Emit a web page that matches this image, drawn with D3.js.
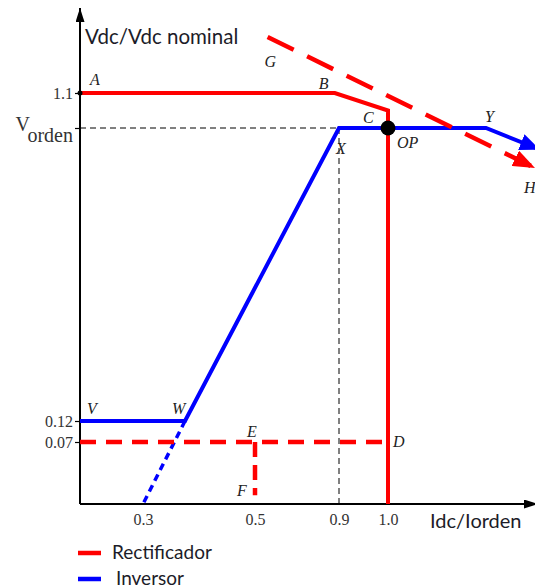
<!DOCTYPE html>
<html>
<head>
<meta charset="utf-8">
<script src="https://cdn.jsdelivr.net/npm/d3@7"></script>
<style>
  html, body { margin: 0; padding: 0; background: #fff; }
  svg { display: block; }
  .sans { font-family: Lato, "Open Sans", sans-serif; fill: #1c1c28; }
  .pt { font-family: "Liberation Serif", "Times New Roman", serif; font-style: italic; font-size: 16px; fill: #222; }
  .tick text { font-family: "Liberation Serif", "Times New Roman", serif; font-size: 16px; fill: #333; }
</style>
</head>
<body>
<svg id="chart" width="535" height="588"></svg>
<script>
// ---- data (Idc/Iorden on x, Vdc/Vdc nominal on y) ----
const xTicks = [0.3, 0.5, 0.9, 1.0];
const yTicks = [0.07, 0.12, 1.0, 1.1];
const yTickLabels = ["0.07", "0.12", "Vorden", "1.1"];

// rectifier characteristic A-B-C and the constant-current leg down to the axis
const rectifierX = [0, 0.88, 1.0, 1.0];
const rectifierY = [1.1, 1.1, 1.05, 0];
// minimum voltage limit (…-D) and E-F segment
const rectMinX = [0, 1.0];
const rectMinY = [0.07, 0.07];
const rectEFX = [0.5, 0.5];
const rectEFY = [0.07, 0.01];
// G-H line
const rectGHX = [0.56, 1.3];
const rectGHY = [1.26, 0.88];

// inverter characteristic V-W-X-Y and the sloped tail
const inverterX = [0, 0.375, 0.9, 1.2, 1.31];
const inverterY = [0.12, 0.12, 1.0, 1.0, 0.935];
// extension of W-X below W
const invExtX = [0.375, 0.3];
const invExtY = [0.12, 0];

// operating point
const opPoint = { x: 1.0, y: 1.0 };

// point names
const pointNames = ["A", "B", "C", "OP", "X", "Y", "H", "V", "W", "E", "F", "D", "G"];
const pointX = [0, 0.88, 1.0, 1.0, 0.9, 1.2, 1.3, 0, 0.375, 0.5, 0.5, 1.0, 0.56];
const pointY = [1.1, 1.1, 1.05, 1.0, 1.0, 1.0, 0.88, 0.12, 0.12, 0.07, 0.01, 0.07, 1.26];

const legendNames = ["Rectificador", "Inversor"];

// ---- layout ----
const svg = d3.select("#chart");
const RED = "#ff0000", BLUE = "#0000ff";

// piecewise-linear scales (the axis is drawn as a schematic, not to scale)
const x = d3.scaleLinear().domain([0, 0.3, 0.5, 0.9, 1.0, 1.3]).range([80, 143, 255, 339, 388, 535]);
const y = d3.scaleLinear().domain([0, 0.07, 0.12, 1.0, 1.4]).range([504, 442, 421, 128, -12]);

const zip = (xs, ys) => xs.map((v, i) => [v, ys[i]]);
const line = d3.line().x(d => x(d[0])).y(d => y(d[1]));

// markers
const defs = svg.append("defs");
function marker(id, color, w, h) {
  defs.append("marker").attr("id", id)
    .attr("markerUnits", "userSpaceOnUse")
    .attr("viewBox", `0 0 ${w} ${h}`)
    .attr("refX", w).attr("refY", h / 2)
    .attr("markerWidth", w).attr("markerHeight", h)
    .attr("orient", "auto")
    .append("path").attr("d", `M0,0L${w},${h / 2}L0,${h}Z`).attr("fill", color);
}
marker("arrBlack", "#000", 14, 9);
marker("arrBlue", BLUE, 20, 17);
marker("arrRed", RED, 22, 17);

// reference dashed lines for Vorden and 0.9
svg.append("path").attr("d", line([[0, 1.0], [0.9, 1.0]]))
  .attr("fill", "none").attr("stroke", "#000").attr("stroke-width", 1).attr("stroke-dasharray", "6 4");
svg.append("path").attr("d", line([[0.9, 1.0], [0.9, 0]]))
  .attr("fill", "none").attr("stroke", "#000").attr("stroke-width", 1).attr("stroke-dasharray", "6 4");

// axes
const yAxis = d3.axisLeft(y).tickValues(yTicks).tickSize(5).tickFormat((d, i) => yTickLabels[i]);
const gy = svg.append("g").attr("transform", `translate(${x(0)},0)`).call(yAxis);
gy.select(".domain").remove();
gy.selectAll(".tick line").attr("stroke", "#000").attr("stroke-width", 1.2);
gy.selectAll(".tick text").attr("x", -7);
// Vorden label with subscript
gy.selectAll(".tick text").filter(d => d === 1.0).each(function () {
  const t = d3.select(this).text("").attr("class", "sans").attr("x", -7).attr("dy", "0.1em")
    .style("font-size", "20px").style("font-style", "normal");
  t.append("tspan").text("V");
  t.append("tspan").text("orden").attr("dy", "0.55em").style("font-size", "20px");
});

const xAxis = d3.axisBottom(x).tickValues(xTicks).tickSize(0).tickFormat(d3.format(".1f"));
const gx = svg.append("g").attr("transform", `translate(0,${y(0)})`).call(xAxis);
gx.select(".domain").remove();
gx.selectAll(".tick text").attr("y", 10);

svg.append("line").attr("x1", x(0)).attr("y1", y(0)).attr("x2", x(0)).attr("y2", 8)
  .attr("stroke", "#000").attr("stroke-width", 2).attr("marker-end", "url(#arrBlack)");
svg.append("line").attr("x1", x(0)).attr("y1", y(0)).attr("x2", 538).attr("y2", y(0))
  .attr("stroke", "#000").attr("stroke-width", 2).attr("marker-end", "url(#arrBlack)");

svg.append("text").attr("class", "sans").attr("x", 85).attr("y", 44)
  .style("font-size", "20.5px").text("Vdc/Vdc nominal");
svg.append("text").attr("class", "sans").attr("x", 430).attr("y", 528)
  .style("font-size", "20px").text("Idc/Iorden");

// inverter curves
svg.append("path").attr("d", line(zip(invExtX, invExtY)))
  .attr("fill", "none").attr("stroke", BLUE).attr("stroke-width", 3.5).attr("stroke-dasharray", "7 5");
svg.append("path").attr("d", line(zip(inverterX, inverterY)))
  .attr("fill", "none").attr("stroke", BLUE).attr("stroke-width", 4).attr("stroke-linejoin", "miter")
  .attr("marker-end", "url(#arrBlue)");

// rectifier curves
svg.append("path").attr("d", line(zip(rectMinX, rectMinY)))
  .attr("fill", "none").attr("stroke", RED).attr("stroke-width", 4.5).attr("stroke-dasharray", "16 10");
svg.append("path").attr("d", line(zip(rectEFX, rectEFY)))
  .attr("fill", "none").attr("stroke", RED).attr("stroke-width", 4.5).attr("stroke-dasharray", "15 8");
svg.append("path").attr("d", line(zip(rectGHX, rectGHY)))
  .attr("fill", "none").attr("stroke", RED).attr("stroke-width", 4.5).attr("stroke-dasharray", "29 15")
  .attr("marker-end", "url(#arrRed)");
svg.append("path").attr("d", line(zip(rectifierX, rectifierY)))
  .attr("fill", "none").attr("stroke", RED).attr("stroke-width", 4).attr("stroke-linejoin", "miter");

// axis dot at 1.1 and operating point
svg.append("circle").attr("cx", x(0)).attr("cy", y(1.1)).attr("r", 2.5).attr("fill", "#000");
svg.append("circle").attr("cx", x(opPoint.x)).attr("cy", y(opPoint.y)).attr("r", 7.5).attr("fill", "#000");

// point labels, offset from their points
const labelOffsets = {
  A: [10, -8], B: [-16, -4], C: [-25, 12], OP: [9, 20], X: [-3, 26], Y: [-1, -6], H: [-11, 25],
  V: [7, -7], W: [-13, -7], E: [-8, -5], F: [-18, 1], D: [5, 5], G: [-3, 30]
};
svg.append("g").selectAll("text").data(pointNames).join("text")
  .attr("class", "pt")
  .attr("x", (d, i) => x(pointX[i]) + labelOffsets[d][0])
  .attr("y", (d, i) => y(pointY[i]) + labelOffsets[d][1])
  .text(d => d);

// legend
const legend = svg.append("g").attr("transform", "translate(78,553)");
legendNames.forEach((name, i) => {
  const g = legend.append("g").attr("transform", `translate(0,${i * 26})`);
  g.append("line").attr("x1", 0).attr("x2", 23).attr("y1", 0).attr("y2", 0)
    .attr("stroke", i === 0 ? RED : BLUE).attr("stroke-width", 4.5);
  g.append("text").attr("class", "sans").attr("x", i === 0 ? 34 : 38).attr("y", 6)
    .style("font-size", "19px").text(name);
});
</script>
</body>
</html>
